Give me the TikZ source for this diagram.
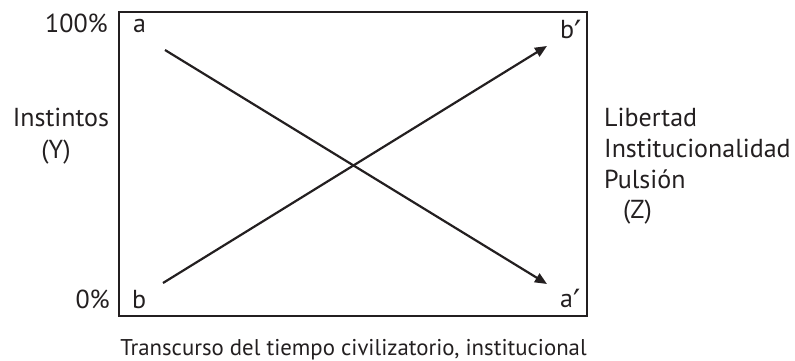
\documentclass[tikz,border=0pt]{standalone}
\usepackage{fontspec}
\setmainfont{PT Sans}
\newfontfamily\primefont{DejaVu Sans}
\usetikzlibrary{arrows.meta}
\definecolor{ink}{HTML}{231F20}
\newcommand{\prm}{\raisebox{-5pt}{\primefont\fontsize{32}{32}\selectfont\char"2032}}
\tikzset{
  lab/.style={inner sep=0pt, text=ink, font=\fontsize{26}{30}\selectfont},
  bottomlab/.style={inner sep=0pt, text=ink, font=\fontsize{22.8}{26}\selectfont},
  framebox/.style={draw=ink, line width=2.6pt},
  flow/.style={draw=ink, line width=2.2pt, -{Triangle[length=12pt,width=10pt]}}
}
\begin{document}
\begin{tikzpicture}[x=1pt,y=-1pt]
\useasboundingbox (0,0) rectangle (795,361);
\coordinate (tl) at (119,12);
\coordinate (br) at (587,316);
\draw[framebox] (tl) rectangle (br);
\coordinate (a0) at (165,50);
\coordinate (a1) at (547,284);
\coordinate (b0) at (163,283);
\coordinate (b1) at (547,46);
\draw[flow] (a0) -- (a1);
\draw[flow] (b0) -- (b1);
\node[lab, anchor=base east] (p100) at (108,33) {100\%};
\node[lab, anchor=base east] (p0) at (110,308) {0\%};
\node[lab, anchor=base west] (la) at (133,33) {a};
\node[lab, anchor=base west] (lb) at (132,308) {b};
\node[lab, anchor=base west] (lbp) at (560,39) {b\prm};
\node[lab, anchor=base west] (lap) at (560,307) {a\prm};
\node[lab, anchor=base] (inst) at (61,126) {Instintos};
\node[lab, anchor=base] (y) at (56,158) {(Y)};
\node[lab, anchor=base west] (lib) at (604,126) {Libertad};
\node[lab, anchor=base west] (insti) at (604,157) {Institucionalidad};
\node[lab, anchor=base west] (puls) at (604,188) {Pulsión};
\node[lab, anchor=base west] (z) at (623,218) {(Z)};
\node[bottomlab, anchor=base] (trans) at (353.5,355) {Transcurso del tiempo civilizatorio, institucional};
\end{tikzpicture}
\end{document}
